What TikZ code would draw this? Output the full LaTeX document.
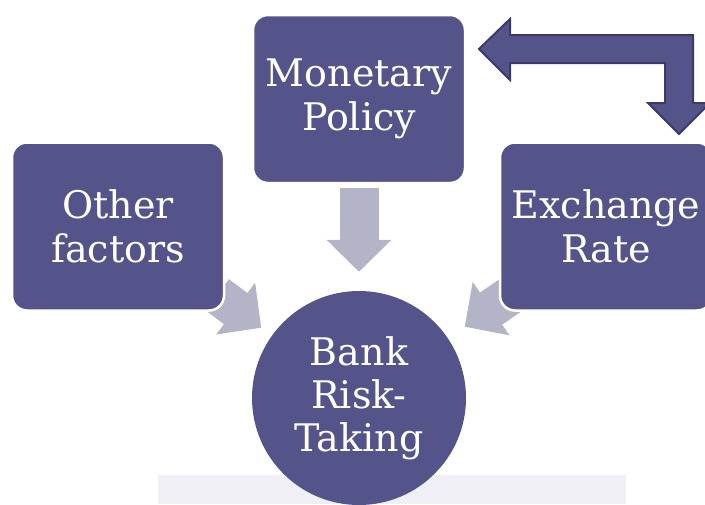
\documentclass[tikz,border=0pt]{standalone}
\usepackage{fontspec}
\setmainfont{DejaVu Serif}
\usetikzlibrary{arrows.meta,positioning,backgrounds}

\definecolor{boxpurple}{RGB}{85,84,138}
\definecolor{flowgray}{RGB}{180,180,200}
\definecolor{edgepurple}{RGB}{58,57,104}
\definecolor{faintbg}{RGB}{240,239,246}

\begin{document}
\begin{tikzpicture}[x=1pt,y=1pt,node distance=2cm,on grid]
  % Rounded boxes, the circle and the grey block arrows
  \tikzstyle{boxP}=[rectangle,rounded corners=15pt,draw=white,line width=2.5pt,fill=boxpurple,text=white,minimum width=212pt,minimum height=168pt,align=center,font=\fontsize{38}{44}\selectfont]
  \tikzstyle{circP}=[circle,fill=boxpurple,text=white,minimum size=214pt,inner sep=0pt,align=center,font=\fontsize{38}{43}\selectfont]
  \tikzstyle{flow}=[draw=flowgray,line width=39pt,-{Triangle[length=32pt,width=63pt]}]

  \useasboundingbox (0,0) rectangle (705,-504);
  \clip (0,0) rectangle (705,-504);
  \fill[faintbg] (158,-475) rectangle (626,-504);

  \node[boxP]  (mp) at (359,-99)                      {Monetary\\Policy};
  \node[boxP]  (of) [below left=127.5pt and 241pt of mp]  {Other\\factors};
  \node[boxP]  (er) [below right=127.5pt and 247pt of mp] {Exchange\\Rate};
  \node[circP] (rb) [below=299pt of mp]                 {Bank\\Risk-\\Taking};

  \begin{scope}[on background layer]
    \draw[flow] ([yshift=-4pt]mp.south) -- ([yshift=19pt]rb.north);
    \draw[flow] ([shift={(-8pt,17pt)}]of.south east) -- ([shift={(36pt,-16pt)}]of.south east);
    \draw[flow] ([shift={(11pt,16pt)}]er.south west) -- ([shift={(-34pt,-15pt)}]er.south west);
  \end{scope}

  % bent two-way arrow between exchange rate and policy
  \draw[edgepurple,line width=2pt,fill=boxpurple,line join=miter]
    (479,-49) -- (510,-19) -- (510,-35) -- (693,-35) -- (693,-103) -- (710,-103)
    -- (679,-134) -- (648,-103) -- (665,-103) -- (665,-63) -- (510,-63) -- (510,-80) -- cycle;
\end{tikzpicture}
\end{document}
